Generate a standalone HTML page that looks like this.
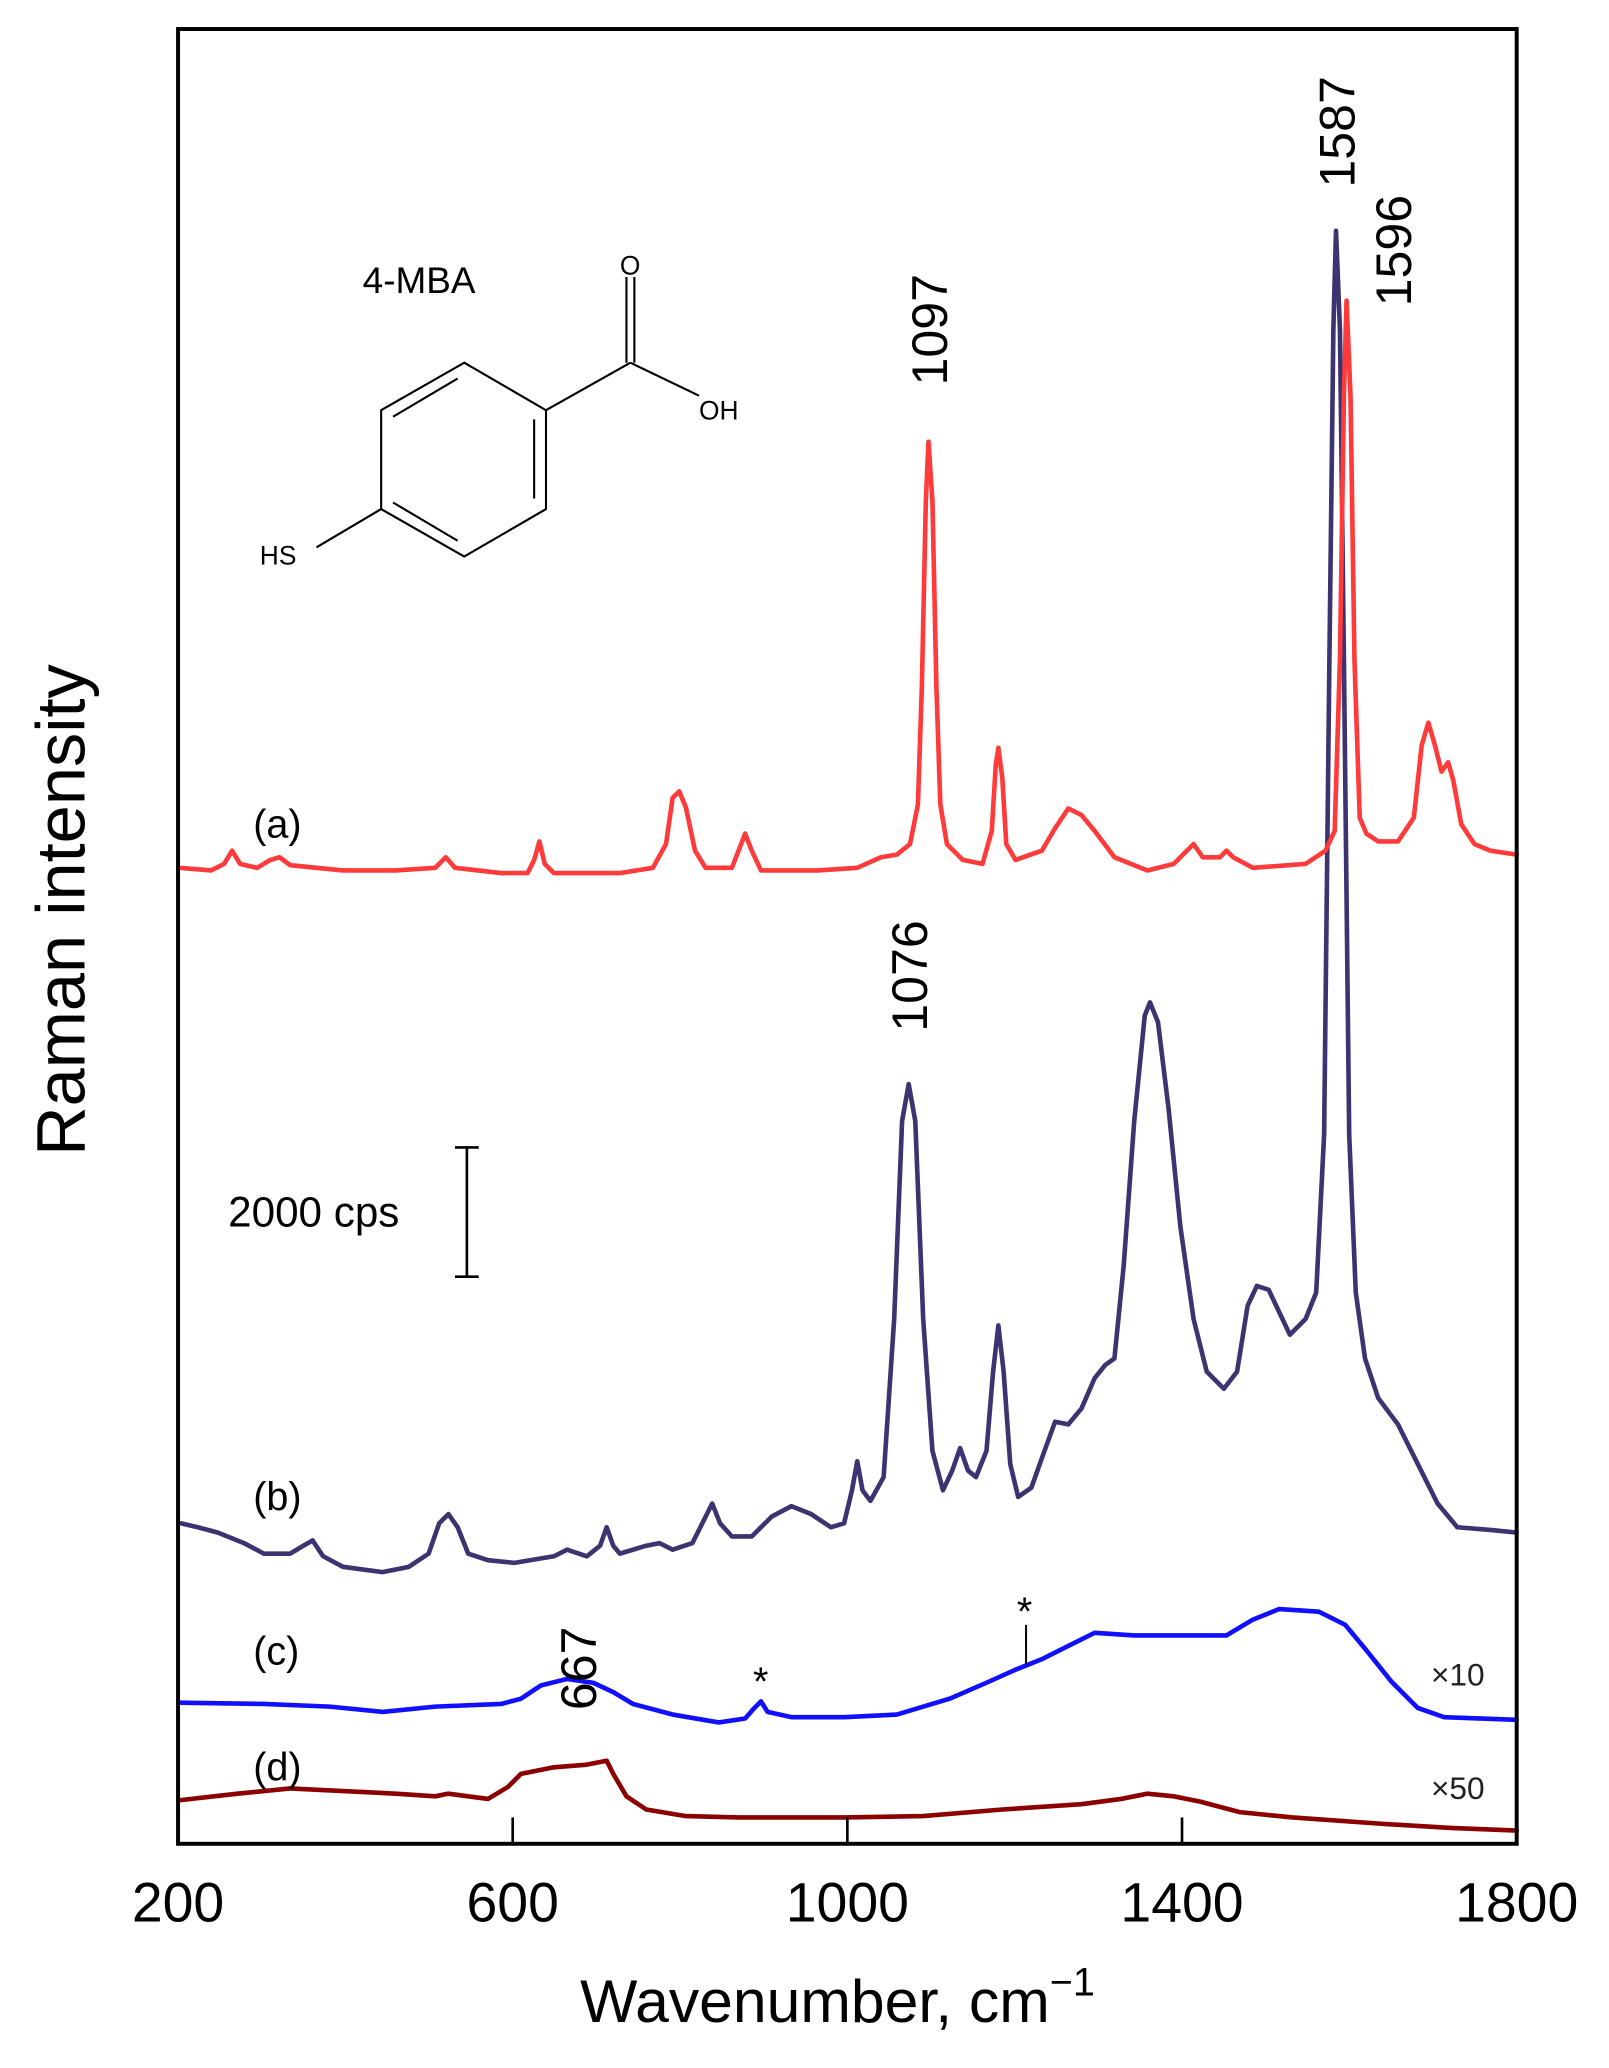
<!DOCTYPE html>
<html><head><meta charset="utf-8"><style>
html,body{margin:0;padding:0;background:#fff;}
svg{display:block;}
text{font-family:"Liberation Sans",sans-serif;}
</style></head><body>
<svg width="1609" height="2068" viewBox="0 0 1220 1568" preserveAspectRatio="none" xmlns="http://www.w3.org/2000/svg">
<rect x="0" y="0" width="1220" height="1568" fill="#fff"/>
<g fill="none" stroke-linejoin="round" stroke-linecap="round">
<polyline stroke="#8b0000" stroke-width="3.5" points="136,1365 180,1360 220,1356 260,1358 300,1360 330,1362 340,1360 370,1364 385,1355 395,1345 420,1340 445,1338 460,1335 465,1345 475,1362 490,1372 520,1377 560,1378 640,1378 700,1377 760,1372 820,1368 850,1364 870,1360 890,1362 910,1366 940,1374 980,1378 1050,1383 1100,1386 1150,1388"/>
<polyline stroke="#1010ff" stroke-width="3.5" points="136,1291 200,1292 250,1294 290,1298 330,1294 380,1292 395,1288 410,1278 430,1273 450,1276 465,1283 480,1292 510,1300 545,1306 565,1303 572,1295 577,1290 582,1298 600,1302 640,1302 680,1300 720,1288 750,1275 770,1266 780,1262 790,1258 810,1248 830,1238 860,1240 890,1240 930,1240 950,1228 970,1220 1000,1222 1020,1232 1035,1250 1055,1275 1075,1295 1095,1302 1150,1304"/>
<polyline stroke="#3b3470" stroke-width="3.5" points="137,1155 150,1158 165,1162 185,1170 200,1178 220,1178 230,1172 237,1168 245,1180 260,1188 290,1192 310,1188 325,1178 333,1155 340,1148 347,1158 355,1178 370,1183 390,1185 420,1180 430,1175 445,1180 455,1172 460,1158 465,1172 470,1178 490,1172 500,1170 510,1175 525,1170 535,1150 540,1140 546,1155 555,1165 570,1165 585,1150 600,1142 615,1148 630,1158 640,1155 646,1130 650,1108 654,1130 660,1138 670,1120 678,1000 684,850 689,822 694,850 700,1000 707,1100 715,1130 722,1115 728,1098 734,1115 740,1120 748,1100 753,1040 757,1005 761,1040 766,1110 772,1135 782,1128 792,1100 800,1078 810,1080 820,1068 830,1045 838,1035 845,1030 852,960 860,850 868,770 872,760 878,775 886,840 895,930 905,1000 915,1040 928,1053 938,1040 946,990 953,975 962,978 970,995 978,1012 990,1000 998,980 1004,860 1008,500 1011,250 1013,175 1016,250 1019,500 1023,860 1028,980 1035,1030 1045,1060 1060,1080 1075,1110 1090,1140 1105,1158 1130,1160 1150,1162"/>
<polyline stroke="#ff3a3a" stroke-width="3.5" points="136,658 160,660 170,655 176,645 182,655 195,658 205,652 212,650 220,656 260,660 300,660 330,658 338,650 345,658 380,662 400,662 405,652 409,638 413,655 420,662 470,662 495,658 505,640 510,605 515,600 520,612 527,645 535,658 555,658 560,645 565,632 570,645 577,660 620,660 650,658 668,650 680,648 690,640 696,610 699,520 702,380 704,335 707,380 710,520 713,610 718,640 730,652 745,655 752,630 755,580 757,567 760,590 763,640 770,652 790,645 800,628 810,613 820,618 830,630 845,650 870,660 890,655 900,645 905,640 912,650 925,650 930,645 935,650 950,658 990,655 1005,645 1012,630 1016,500 1019,300 1021,228 1024,300 1027,500 1031,620 1036,632 1045,638 1060,638 1072,620 1078,565 1083,548 1088,565 1093,585 1098,578 1102,592 1108,625 1118,640 1130,645 1150,648"/>
</g>
<rect x="135" y="22" width="1015" height="1376" fill="none" stroke="#000" stroke-width="3"/>
<g stroke="#000" stroke-width="2">
<line x1="388.75" y1="1398" x2="388.75" y2="1378"/>
<line x1="642.5" y1="1398" x2="642.5" y2="1378"/>
<line x1="896.25" y1="1398" x2="896.25" y2="1378"/>
</g>
<g font-size="42" text-anchor="middle" fill="#000">
<text x="135" y="1457">200</text><text x="388.75" y="1457">600</text><text x="642.5" y="1457">1000</text><text x="896.25" y="1457">1400</text><text x="1150" y="1457">1800</text>
</g>
<text x="635" y="1533" font-size="46" text-anchor="middle">Wavenumber, cm<tspan font-size="30" dy="-20">−1</tspan></text>
<text transform="translate(64,690) rotate(-90)" font-size="52" text-anchor="middle">Raman intensity</text>
<g font-size="38" fill="#000">
<text transform="translate(718,250) rotate(-90)" text-anchor="middle">1097</text>
<text transform="translate(1027,100) rotate(-90)" text-anchor="middle">1587</text>
<text transform="translate(1070,190) rotate(-90)" text-anchor="middle">1596</text>
<text transform="translate(703,740) rotate(-90)" text-anchor="middle">1076</text>
<text transform="translate(452,1265) rotate(-90)" text-anchor="middle">667</text>
</g>
<g font-size="30" fill="#000">
<text x="192" y="635">(a)</text>
<text x="192" y="1145">(b)</text>
<text x="192" y="1262">(c)</text>
<text x="192" y="1350">(d)</text>
<text x="173" y="930" font-size="32">2000 cps</text>
<text x="275" y="222" font-size="28">4-MBA</text>
<text x="571" y="1285" font-size="30">*</text>
<text x="771" y="1232" font-size="30">*</text>
</g>
<line x1="778" y1="1232" x2="778" y2="1262" stroke="#000" stroke-width="1.5"/>
<g font-family="Liberation Serif,serif" font-size="24" fill="#222">
<text x="1085" y="1278">×10</text>
<text x="1085" y="1364">×50</text>
</g>
<g stroke="#000" stroke-width="2">
<line x1="354" y1="870" x2="354" y2="968"/><line x1="345" y1="870" x2="363" y2="870"/><line x1="345" y1="968" x2="363" y2="968"/>
</g>
<g stroke="#000" stroke-width="1.6" fill="none">
<polygon points="352,275 414,311 414,386 352,422 289,386 289,311"/>
<line x1="298" y1="316" x2="347" y2="287"/>
<line x1="405" y1="318" x2="405" y2="378"/>
<line x1="298" y1="381" x2="347" y2="410"/>
<line x1="414" y1="311" x2="478" y2="275"/>
<line x1="478" y1="275" x2="530" y2="300"/>
<line x1="475" y1="275" x2="475" y2="210"/><line x1="481" y1="275" x2="481" y2="210"/>
<line x1="289" y1="386" x2="240" y2="415"/>
</g>
<g font-size="20" fill="#000">
<text x="470" y="208">O</text>
<text x="530" y="318">OH</text>
<text x="197" y="428">HS</text>
</g>
</svg>
</body></html>
